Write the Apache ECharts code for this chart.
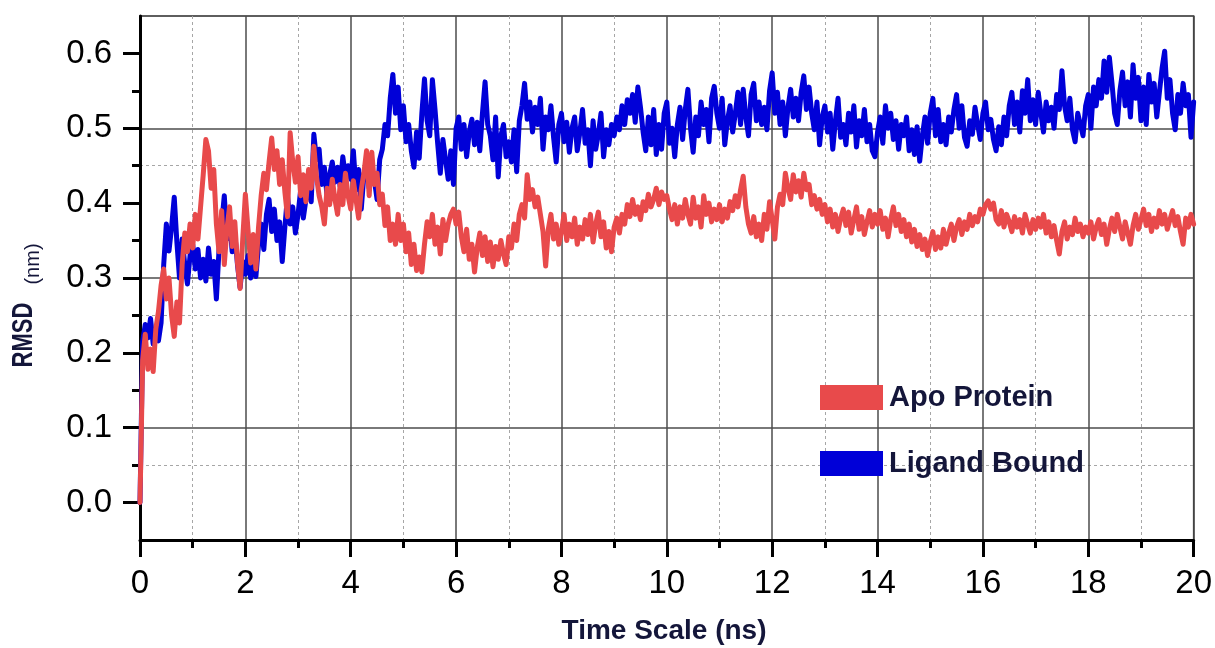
<!DOCTYPE html>
<html>
<head>
<meta charset="utf-8">
<title>RMSD – Apo Protein vs Ligand Bound</title>
<script src="https://cdn.jsdelivr.net/npm/echarts@6/dist/echarts.min.js"></script>
<style>
  html, body { margin: 0; padding: 0; background: #ffffff; }
  #chart { width: 1215px; height: 648px; }
</style>
</head>
<body>
<div id="chart"></div>
<script>
// Sampling step of the trajectories (ns)
const timeStepNs = 0.05;

// RMSD (nm) of the apo protein, one value per 0.05 ns from 0 to 20 ns
const apoRmsd = [
  0.000,0.190,0.225,0.178,0.205,0.175,0.232,0.255,0.290,0.312,0.272,0.300,0.250,0.222,0.268,0.240,0.318,0.360,0.335,0.372,
  0.340,0.385,0.352,0.395,0.438,0.485,0.470,0.420,0.445,0.372,0.335,0.390,0.318,0.365,0.395,0.342,0.375,0.320,0.286,0.352,
  0.412,0.365,0.320,0.358,0.312,0.368,0.410,0.440,0.418,0.455,0.487,0.445,0.470,0.425,0.458,0.415,0.382,0.494,0.455,0.428,
  0.462,0.410,0.438,0.402,0.445,0.420,0.476,0.435,0.410,0.395,0.372,0.420,0.398,0.432,0.405,0.385,0.425,0.398,0.440,0.410,
  0.392,0.430,0.405,0.380,0.418,0.440,0.470,0.410,0.468,0.425,0.440,0.398,0.412,0.370,0.395,0.350,0.372,0.345,0.385,0.350,
  0.372,0.335,0.360,0.318,0.345,0.310,0.328,0.308,0.345,0.375,0.355,0.385,0.345,0.368,0.332,0.378,0.350,0.372,0.385,0.392,
  0.372,0.388,0.355,0.335,0.365,0.325,0.345,0.308,0.340,0.360,0.330,0.355,0.322,0.348,0.315,0.342,0.325,0.350,0.332,0.318,
  0.355,0.340,0.372,0.350,0.385,0.398,0.380,0.438,0.405,0.418,0.395,0.408,0.385,0.362,0.316,0.365,0.385,0.352,0.372,0.345,
  0.362,0.385,0.350,0.372,0.355,0.380,0.345,0.368,0.352,0.378,0.358,0.385,0.348,0.372,0.388,0.355,0.375,0.340,0.362,0.335,
  0.368,0.380,0.360,0.385,0.372,0.398,0.382,0.405,0.385,0.395,0.378,0.402,0.390,0.412,0.395,0.405,0.420,0.398,0.415,0.405,
  0.410,0.392,0.378,0.398,0.372,0.395,0.380,0.405,0.385,0.372,0.408,0.380,0.395,0.368,0.410,0.385,0.400,0.375,0.392,0.378,
  0.398,0.375,0.392,0.380,0.402,0.390,0.410,0.395,0.418,0.436,0.395,0.372,0.360,0.382,0.355,0.372,0.350,0.385,0.365,0.402,
  0.378,0.352,0.395,0.412,0.398,0.440,0.420,0.405,0.438,0.415,0.430,0.408,0.440,0.418,0.425,0.398,0.410,0.392,0.405,0.385,
  0.398,0.375,0.392,0.368,0.385,0.362,0.380,0.392,0.370,0.388,0.360,0.378,0.395,0.365,0.382,0.358,0.375,0.390,0.368,0.385,
  0.372,0.390,0.365,0.380,0.355,0.378,0.395,0.370,0.385,0.362,0.378,0.355,0.372,0.348,0.365,0.342,0.358,0.338,0.352,0.330,
  0.348,0.362,0.338,0.355,0.340,0.365,0.345,0.360,0.372,0.350,0.368,0.378,0.358,0.375,0.365,0.385,0.370,0.382,0.375,0.392,
  0.385,0.398,0.403,0.392,0.400,0.378,0.372,0.390,0.368,0.385,0.375,0.362,0.382,0.368,0.378,0.360,0.385,0.372,0.360,0.378,
  0.365,0.380,0.368,0.385,0.360,0.375,0.355,0.370,0.350,0.332,0.362,0.375,0.352,0.368,0.358,0.380,0.362,0.372,0.355,0.368,
  0.360,0.375,0.352,0.368,0.378,0.358,0.372,0.345,0.365,0.380,0.362,0.385,0.368,0.352,0.375,0.360,0.345,0.370,0.385,0.365,
  0.378,0.392,0.370,0.385,0.362,0.380,0.368,0.390,0.372,0.385,0.365,0.378,0.390,0.370,0.382,0.362,0.345,0.380,0.368,0.385,0.372
];

// RMSD (nm) of the ligand-bound complex, same sampling
const ligandRmsd = [
  0.000,0.215,0.238,0.220,0.246,0.212,0.230,0.216,0.240,0.318,0.372,0.336,0.368,0.408,0.348,0.300,0.352,0.318,0.292,0.330,
  0.345,0.312,0.338,0.300,0.325,0.296,0.340,0.305,0.322,0.272,0.338,0.372,0.410,0.352,0.378,0.335,0.360,0.318,0.287,0.322,
  0.305,0.330,0.300,0.318,0.302,0.345,0.372,0.338,0.385,0.405,0.362,0.392,0.350,0.375,0.322,0.368,0.410,0.372,0.395,0.360,
  0.385,0.418,0.380,0.405,0.430,0.402,0.492,0.458,0.472,0.425,0.448,0.410,0.438,0.455,0.428,0.448,0.422,0.462,0.435,0.450,
  0.432,0.470,0.418,0.445,0.392,0.438,0.455,0.420,0.448,0.430,0.405,0.458,0.472,0.505,0.490,0.540,0.572,0.520,0.555,0.498,
  0.530,0.482,0.505,0.470,0.448,0.495,0.460,0.520,0.566,0.510,0.490,0.565,0.525,0.480,0.440,0.485,0.458,0.432,0.470,0.425,
  0.500,0.515,0.472,0.505,0.462,0.495,0.512,0.478,0.508,0.470,0.520,0.562,0.505,0.490,0.458,0.515,0.435,0.490,0.505,0.462,
  0.482,0.455,0.498,0.442,0.510,0.530,0.560,0.512,0.535,0.495,0.528,0.505,0.540,0.472,0.515,0.498,0.530,0.488,0.455,0.505,
  0.520,0.482,0.508,0.468,0.500,0.515,0.470,0.495,0.525,0.480,0.498,0.450,0.510,0.472,0.492,0.520,0.462,0.498,0.478,0.505,
  0.490,0.515,0.498,0.530,0.505,0.538,0.520,0.545,0.508,0.555,0.528,0.495,0.470,0.515,0.478,0.525,0.465,0.505,0.472,0.520,
  0.535,0.480,0.500,0.462,0.505,0.528,0.485,0.525,0.552,0.500,0.468,0.515,0.490,0.535,0.505,0.525,0.482,0.540,0.556,0.520,
  0.500,0.540,0.478,0.510,0.530,0.495,0.520,0.548,0.505,0.552,0.515,0.490,0.545,0.560,0.510,0.535,0.505,0.528,0.498,0.550,
  0.574,0.520,0.548,0.505,0.535,0.490,0.528,0.552,0.515,0.540,0.510,0.548,0.570,0.525,0.555,0.520,0.498,0.535,0.478,0.515,
  0.530,0.495,0.520,0.472,0.510,0.540,0.488,0.505,0.478,0.520,0.495,0.530,0.475,0.510,0.490,0.525,0.482,0.505,0.470,0.462,
  0.495,0.515,0.480,0.530,0.500,0.520,0.485,0.510,0.472,0.505,0.490,0.515,0.470,0.498,0.465,0.502,0.456,0.490,0.515,0.480,
  0.520,0.540,0.490,0.525,0.482,0.505,0.478,0.515,0.495,0.525,0.545,0.500,0.530,0.488,0.476,0.510,0.492,0.528,0.505,0.485,
  0.520,0.535,0.498,0.512,0.485,0.470,0.502,0.478,0.515,0.490,0.530,0.548,0.505,0.535,0.495,0.550,0.520,0.565,0.510,0.538,
  0.505,0.548,0.520,0.495,0.535,0.510,0.528,0.500,0.545,0.525,0.577,0.530,0.510,0.540,0.498,0.482,0.520,0.505,0.490,0.530,
  0.545,0.500,0.555,0.530,0.565,0.540,0.590,0.548,0.595,0.560,0.520,0.505,0.550,0.575,0.530,0.562,0.515,0.585,0.540,0.568,
  0.510,0.555,0.505,0.572,0.535,0.560,0.515,0.548,0.580,0.603,0.540,0.565,0.520,0.498,0.545,0.520,0.560,0.530,0.545,0.488,0.535
];

// Tick values
const xTickValues = [0, 2, 4, 6, 8, 10, 12, 14, 16, 18, 20];
const yTickValues = [0.0, 0.1, 0.2, 0.3, 0.4, 0.5, 0.6];
const yMinorTickValues = [0.05, 0.15, 0.25, 0.35, 0.45, 0.55];

const seriesNames = ['Apo Protein', 'Ligand Bound'];
const seriesColors = ['#E84A4B', '#0000D8'];

const FONT = '"Liberation Sans", Arial, Helvetica, sans-serif';
const TITLE_COLOR = '#14163a';

function toPairs(values) {
  return values.map((v, i) => [+(i * timeStepNs).toFixed(2), v]);
}

const chart = echarts.init(document.getElementById('chart'), null, { renderer: 'canvas' });

const baseY = {
  type: 'value',
  min: -0.05,
  max: 0.65,
  interval: 0.05,
  position: 'left'
};

chart.setOption({
  animation: false,
  backgroundColor: '#ffffff',
  grid: {
    left: 140, right: 19, top: 16, bottom: 108,
    show: true, borderColor: '#2a2a2a', borderWidth: 1.5, backgroundColor: 'transparent'
  },
  legend: {
    data: seriesNames,
    orient: 'vertical',
    left: 815,
    top: 378,
    icon: 'rect',
    itemWidth: 63,
    itemHeight: 25,
    itemGap: 37,
    textStyle: {
      fontFamily: FONT, fontSize: 29, fontWeight: 'bold', color: TITLE_COLOR,
      lineHeight: 25, padding: [0, 0, 0, 1]
    }
  },
  xAxis: {
    type: 'value',
    min: xTickValues[0],
    max: xTickValues[xTickValues.length - 1],
    interval: 2,
    axisLine: { show: true, onZero: false, lineStyle: { color: '#000', width: 3 } },
    axisTick: { show: true, length: 17, lineStyle: { color: '#000', width: 3 } },
    minorTick: { show: true, splitNumber: 2, length: 8, lineStyle: { color: '#000', width: 3 } },
    axisLabel: { fontFamily: FONT, fontSize: 33, color: '#000', margin: 27 },
    splitLine: { show: true, lineStyle: { color: '#4d4d4d', width: 1.5 } },
    minorSplitLine: { show: true, lineStyle: { color: '#a6a6a6', width: 1, type: [3, 3] } }
  },
  yAxis: [
    Object.assign({}, baseY, {
      axisLine: { show: true, onZero: false, lineStyle: { color: '#000', width: 3 } },
      axisTick: { show: true, length: 17, customValues: yTickValues, lineStyle: { color: '#000', width: 3 } },
      axisLabel: {
        customValues: yTickValues,
        formatter: v => v.toFixed(1),
        fontFamily: FONT, fontSize: 33, color: '#000', margin: 28
      },
      // solid lines on the 0.1 steps only
      splitLine: { show: true, lineStyle: { color: ['rgba(0,0,0,0)', '#4d4d4d'], width: 1.5 } }
    }),
    Object.assign({}, baseY, {
      axisLine: { show: false },
      axisTick: { show: true, length: 8, customValues: yMinorTickValues, lineStyle: { color: '#000', width: 3 } },
      axisLabel: { show: false },
      // dotted lines on the half steps
      splitLine: { show: true, lineStyle: { color: ['#a6a6a6', 'rgba(0,0,0,0)'], width: 1, type: [3, 3] } }
    })
  ],
  series: [
    {
      name: seriesNames[1],
      type: 'line',
      yAxisIndex: 0,
      data: toPairs(ligandRmsd),
      showSymbol: false,
      color: seriesColors[1],
      lineStyle: { width: 5, color: seriesColors[1], join: 'round', cap: 'round' },
      z: 3
    },
    {
      name: seriesNames[0],
      type: 'line',
      yAxisIndex: 0,
      data: toPairs(apoRmsd),
      showSymbol: false,
      color: seriesColors[0],
      lineStyle: { width: 5, color: seriesColors[0], join: 'round', cap: 'round' },
      z: 4
    }
  ],
  graphic: [
    {
      type: 'text',
      x: 664, y: 631,
      style: {
        text: 'Time Scale (ns)',
        font: 'bold 28px ' + FONT,
        fill: TITLE_COLOR,
        align: 'center', verticalAlign: 'middle',
        textAlign: 'center', textVerticalAlign: 'middle'
      }
    },
    {
      type: 'text',
      x: 24, y: 335,
      rotation: Math.PI / 2,
      scaleY: 1.35,
      style: {
        text: 'RMSD',
        font: 'bold 22px ' + FONT,
        fill: TITLE_COLOR,
        align: 'center', verticalAlign: 'middle',
        textAlign: 'center', textVerticalAlign: 'middle'
      }
    },
    {
      type: 'text',
      x: 33, y: 264,
      rotation: Math.PI / 2,
      style: {
        text: '(nm)',
        font: '20px ' + FONT,
        fill: TITLE_COLOR,
        align: 'center', verticalAlign: 'middle',
        textAlign: 'center', textVerticalAlign: 'middle'
      }
    }
  ]
});
</script>
</body>
</html>
